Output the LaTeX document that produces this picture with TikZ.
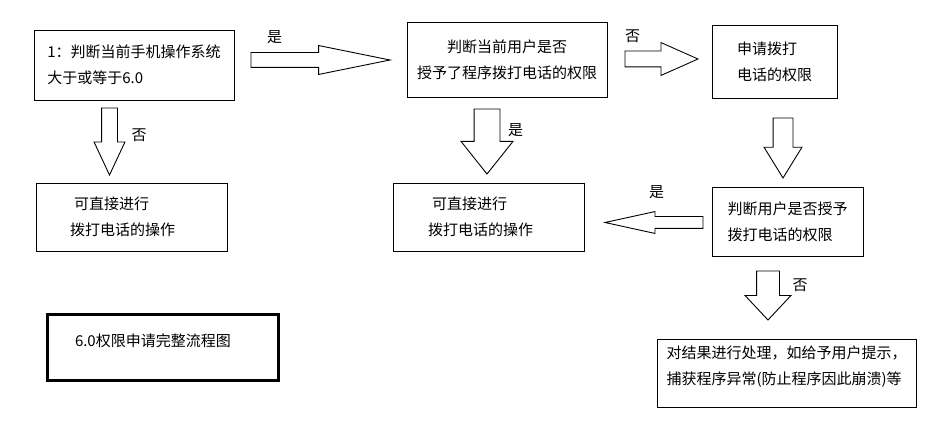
\documentclass[tikz,border=0pt]{standalone}
\usepackage{fontspec}
\setmainfont{Noto Sans CJK SC}
\usetikzlibrary{shapes.arrows}

\begin{document}
\begin{tikzpicture}[
    x=1pt, y=-1pt,
    every node/.style={font=\fontsize{15}{26}\selectfont},
    box/.style={draw, line width=0.9pt, anchor=north west, align=left,
                inner sep=0pt, outer sep=0pt},
    titlebox/.style={box, line width=3.3pt},
    barrow/.style={draw, line width=0.9pt, single arrow, anchor=tail,
                   inner xsep=0pt, outer sep=0pt, single arrow head indent=0pt},
    lbl/.style={inner sep=0pt},
]
\useasboundingbox (0,0) rectangle (938,446);

% ===== top row =====
\node[box, minimum width=200, minimum height=70] (chk) at (34,30)
      {1：判断当前手机操作系统\\大于或等于6.0};
\node[box, align=center, minimum width=200, minimum height=75] (perm) at (407,22)
      {判断当前用户是否\\授予了程序拨打电话的权限};
\node[box, minimum width=125, minimum height=73] (ask) at (712,25)
      {申请拨打\\电话的权限};

% ===== middle row =====
\node[box, minimum width=191, minimum height=68, text width=123, inner xsep=34] (call1) at (36,183)
      {\hspace*{4pt}可直接进行\\拨打电话的操作};
\node[box, minimum width=191, minimum height=68, text width=121, inner xsep=35] (call2) at (393,183)
      {\hspace*{4pt}可直接进行\\拨打电话的操作};
\node[box, minimum width=151, minimum height=69] (grant) at (712,187)
      {判断用户是否授予\\拨打电话的权限};

% ===== bottom row =====
\node[titlebox, minimum width=230.6, minimum height=65.6, text width=176, inner xsep=27.3] (title) at (47.7,314.7)
      {6.0权限申请完整流程图\rule[-14pt]{0pt}{14pt}};
\node[box, minimum width=259, minimum height=68] (handle) at (657,339)
      {对结果进行处理，如给予用户提示，\\捕获程序异常(防止程序因此崩溃)等\rule[-15pt]{0pt}{15pt}};

% block arrows (body = 2 x inner ysep)
\node[barrow, minimum height=139, inner ysep=7, single arrow head extend=7,
      single arrow tip angle=22.9] (chk2perm) at (251,60) {};
\node[barrow, minimum height=73, inner ysep=7.5, single arrow head extend=8.5,
      single arrow tip angle=47.9] (perm2ask) at (625,59) {};
\node[barrow, rotate=-90, minimum height=67, inner ysep=7.5, single arrow head extend=7.5,
      single arrow tip angle=50.2] (chk2call) at (109.5,108) {};
\node[barrow, rotate=-90, minimum height=65, inner ysep=12.5, single arrow head extend=13,
      single arrow tip angle=77.1] (perm2call) at (487,109) {};
\node[barrow, rotate=-90, minimum height=60, inner ysep=9.5, single arrow head extend=9,
      single arrow tip angle=63.3] (ask2grant) at (783,118) {};
\node[barrow, rotate=180, minimum height=98, inner ysep=5.5, single arrow head extend=5,
      single arrow tip angle=24.7] (grant2call) at (703,222.5) {};
\node[barrow, rotate=-90, minimum height=49, inner ysep=11, single arrow head extend=11.5,
      single arrow tip angle=86.3] (grant2handle) at (768,271) {};

% labels
\node[lbl] (yes1) at (274.5,37.5) {是};
\node[lbl] (no1)  at (139,135)    {否};
\node[lbl] (no2)  at (632.5,36)   {否};
\node[lbl] (yes2) at (515.5,130.5) {是};
\node[lbl] (yes3) at (656.5,192.5) {是};
\node[lbl] (no3)  at (800,285.5)  {否};

\end{tikzpicture}
\end{document}
